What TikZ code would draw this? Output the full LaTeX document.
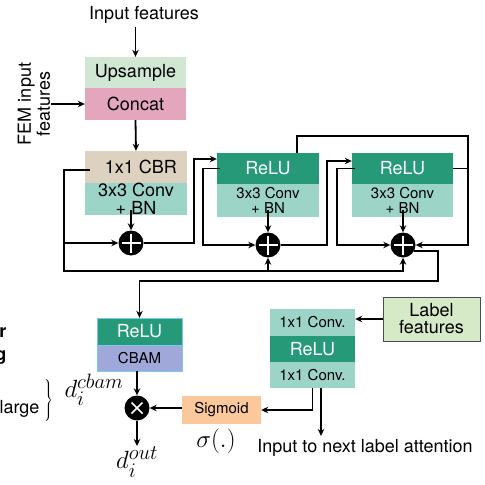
\documentclass[tikz,border=0pt]{standalone}
\usepackage[no-math]{fontspec}
\setmainfont{TeX Gyre Heros}
\usepackage{amsmath}
\usetikzlibrary{arrows.meta}

\definecolor{upcol}{RGB}{208,231,211}
\definecolor{catcol}{RGB}{228,166,189}
\definecolor{cbrcol}{RGB}{221,210,191}
\definecolor{convcol}{RGB}{156,212,200}
\definecolor{relucol}{RGB}{38,153,120}
\definecolor{cbamcol}{RGB}{160,168,217}
\definecolor{cbamedge}{RGB}{120,200,240}
\definecolor{sigcol}{RGB}{250,200,155}
\definecolor{lblcol}{RGB}{214,234,200}

\begin{document}
\begin{tikzpicture}[x=1pt,y=-1pt,
        arr/.style={line width=1.8pt,-{Stealth[length=7pt,width=6.5pt]}},
        ln/.style={line width=1.8pt},
        part/.style={inner sep=0pt,minimum width=#1,align=center},
        big/.style={font=\fontsize{18}{18}\selectfont},
        small/.style={font=\fontsize{15}{15}\selectfont},
        mathf/.style={font=\fontsize{24.88}{28}\selectfont,inner sep=1pt},
        plusnode/.style={circle,fill=black,minimum size=25pt,inner sep=0pt,
            path picture={\draw[white,line width=1.5pt]
                ([yshift=-3pt]path picture bounding box.north) -- ([yshift=3pt]path picture bounding box.south)
                ([xshift=3pt]path picture bounding box.west) -- ([xshift=-3pt]path picture bounding box.east);}},
        timesnode/.style={circle,fill=black,minimum size=25pt,inner sep=0pt,
            path picture={\draw[white,line width=1.5pt]
                ([shift={(-5.5pt,-5.5pt)}]path picture bounding box.center) -- ([shift={(5.5pt,5.5pt)}]path picture bounding box.center)
                ([shift={(-5.5pt,5.5pt)}]path picture bounding box.center) -- ([shift={(5.5pt,-5.5pt)}]path picture bounding box.center);}}]
        \useasboundingbox (0,0) rectangle (485,485);

        % input stage
        \node[big] (infeat) at (144,15) {Input features};
        \node[part=101pt,minimum height=31pt,fill=upcol,big] (up) at (135.5,72.5) {Upsample};
        \node[part=101pt,minimum height=32pt,fill=catcol,big] (concat) at (135.5,104) {Concat};
        \node[big,rotate=90,align=center,inner sep=1pt,font=\fontsize{18}{19}\selectfont] (fem) at (34,104) {FEM input\\features};

        % residual blocks
        \node[part=102pt,minimum height=32pt,fill=cbrcol,big] (cbr) at (136,167) {\hspace*{10pt}1x1 CBR};
        \node[part=102pt,minimum height=32pt,fill=convcol,big] (conv1) at (136,199) {3x3 Conv\\+ BN};
        \node[part=102pt,minimum height=31pt,fill=relucol,text=white,big] (relu2) at (268,168.5) {ReLU};
        \node[part=102pt,minimum height=33pt,fill=convcol,small] (conv2) at (268,200.5) {3x3 Conv\\+ BN};
        \node[part=101pt,minimum height=31pt,fill=relucol,text=white,big] (relu3) at (402.5,168.5) {ReLU};
        \node[part=101pt,minimum height=33pt,fill=convcol,small] (conv3) at (402.5,200.5) {3x3 Conv\\+ BN};
        \node[plusnode] (p1) at (131,243) {};
        \node[plusnode] (p2) at (268,245) {};
        \node[plusnode] (p3) at (403,245) {};

        % output stage
        \node[part=85pt,minimum height=27pt,fill=relucol,draw=cbamedge,text=white,big] (relu4) at (139.5,331.5) {ReLU};
        \node[part=85pt,minimum height=26pt,fill=cbamcol,draw=cbamedge,small] (cbam) at (139.5,358) {CBAM};
        \node[timesnode] (ot) at (137,408) {};
        \node[mathf,anchor=north] (dout) at (137,446) {$d_i^{out}$};
        \node[mathf] (dcbam) at (94,390) {$d_i^{cbam}$};
        \node[part=79pt,minimum height=28pt,fill=sigcol,small] (sig) at (221.5,410) {Sigmoid};
        \node[mathf] (sigma) at (216,441) {$\sigma(.)$};

        % label attention
        \node[part=85pt,minimum height=27pt,fill=convcol,small] (l1) at (312.5,322.5) {1x1 Conv.};
        \node[part=85pt,minimum height=26pt,fill=relucol,text=white,big] (l2) at (312.5,349) {ReLU};
        \node[part=85pt,minimum height=26pt,fill=convcol,small] (l3) at (312.5,375) {1x1 Conv.};
        \node[part=97pt,minimum height=44pt,fill=lblcol,draw=black!70,line width=1pt,font=\fontsize{18}{17}\selectfont] (lbl) at (431.5,319) {Label\\features};
        \node[big] (next) at (365,448) {Input to next label attention};

        % cut-off text on the left
        \node[big,anchor=base east,font=\fontsize{18}{18}\selectfont\bfseries] (ir) at (10,337) {ir};
        \node[big,anchor=base east,font=\fontsize{18}{18}\selectfont\bfseries] (g) at (10,360) {g};
        \node[big,anchor=base east] (large) at (43,413) {large};
        \node[inner sep=0pt] (brace) at (48,401) {$\left.\vrule height 20pt depth 20pt width 0pt\right\}$};

        % connectors
        \coordinate (bus) at (64,271);
        \coordinate (tr) at (468,136);
        \coordinate (dn) at (438,281);
        \coordinate (l3b) at ([xshift=8.5pt]l3.south);
        \draw[arr] (up.north |- infeat.south) -- (up.north);
        \draw[arr] (fem.south) -- (concat.west);
        \draw[arr] (concat.south) -- (cbr.north);
        \draw[arr] (p1 |- conv1.south) ++(0,-5) -- (p1.north);
        \draw[arr] (p2 |- conv2.south) ++(0,-7) -- (p2.north);
        \draw[arr] (p3 |- conv3.south) ++(0,-7) -- (p3.north);
        \draw[arr] ([xshift=5pt,yshift=-3pt]cbr.west) -| (bus) -| (p3.south);
        \draw[arr] (bus -| p2.south) -- (p2.south);
        \draw[arr] (bus |- p1.west) -- (p1.west);
        \draw[arr] (p1.east) -- ++(50,0) |- ([yshift=9.5pt]relu2.west);
        \draw[arr] ([xshift=3pt]relu2.west) -- ++(-17,0) |- (p2.west);
        \draw[arr] (p2.east) -- ++(46.5,0) |- ([yshift=7.5pt]relu3.west);
        \draw[arr] ([xshift=3pt]relu3.west) -- ++(-18,0) |- (p3.west);
        \draw[arr] ([xshift=29pt]relu2.north) |- (tr) |- (p3.east);
        \draw[ln] (relu3.east) -- (relu3.east -| tr);
        \draw[arr] (p3.-30) -| (dn) -| (relu4.north);
        \draw[arr] (cbam.south -| ot) -- (ot.north);
        \draw[arr] (ot.south) -- (dout.north);
        \draw[arr] (sig.west |- ot) -- (ot.east);
        \draw[arr] (lbl.west) -- (lbl.west -| l1.east);
        \draw[arr] (l3.south) |- (sig.east);
        \draw[arr] (l3b) -- (l3b |- next.north);
\end{tikzpicture}
\end{document}
